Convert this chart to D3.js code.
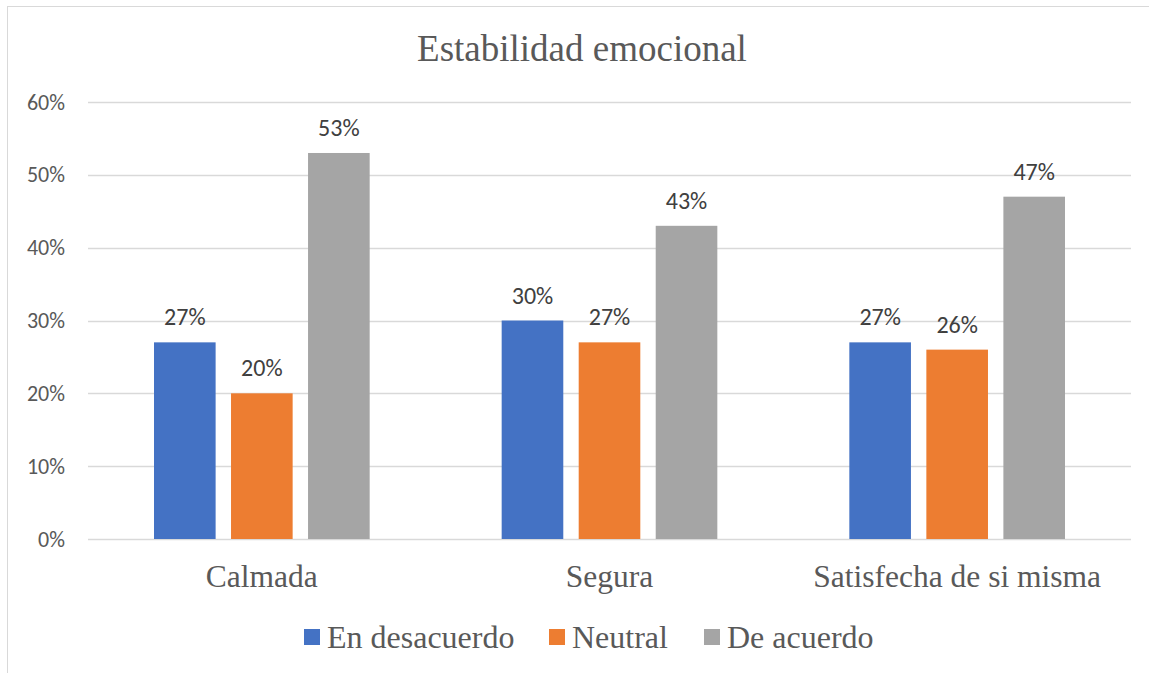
<!DOCTYPE html>
<html>
<head>
<meta charset="utf-8">
<script src="https://cdn.jsdelivr.net/npm/d3@7"></script>
<style>
  body { margin: 0; background: #fff; }
</style>
</head>
<body>
<script>
const categories = ['Calmada', 'Segura', 'Satisfecha de si misma']
const seriesNames = ['En desacuerdo', 'Neutral', 'De acuerdo']
const enDesacuerdo = [0.27, 0.30, 0.27]
const neutral = [0.20, 0.27, 0.26]
const deAcuerdo = [0.53, 0.43, 0.47]
const yTicks = [0, 0.1, 0.2, 0.3, 0.4, 0.5, 0.6]
const colors = ['#4472c4', '#ed7d31', '#a5a5a5']

const width = 1149, height = 673
const plotLeft = 88, plotRight = 1131, plotTop = 102, plotBottom = 539

let svg = d3.select('body').append('svg')
  .attr('width', width)
  .attr('height', height)

// chart border
svg.append('rect')
  .attr('x', 7.5).attr('y', 6.5)
  .attr('width', 1160).attr('height', 700)
  .attr('fill', 'none')
  .attr('stroke', '#d9d9d9')

const x = d3.scaleBand().domain(categories).range([plotLeft, plotRight]).paddingInner(0).paddingOuter(0)
const xs = d3.scaleBand().domain(seriesNames).range([66, x.bandwidth() - 66]).paddingInner(0.2)
const y = d3.scaleLinear().domain([0, 0.6]).range([plotBottom, plotTop])

// gridlines
svg.append('g').selectAll('line').data(yTicks).enter().append('line')
  .attr('x1', plotLeft).attr('x2', plotRight)
  .attr('y1', d => Math.round(y(d)) + 0.5).attr('y2', d => Math.round(y(d)) + 0.5)
  .attr('stroke', '#d9d9d9').attr('stroke-width', 1.5)

// y labels
svg.append('g').selectAll('text').data(yTicks).enter().append('text')
  .attr('x', 65).attr('y', d => y(d) + 7.5)
  .attr('text-anchor', 'end')
  .style('font-family', 'Carlito, "Open Sans", sans-serif')
  .style('font-size', '22px')
  .style('fill', '#595959')
  .text(d3.format('.0%'))

const series = [enDesacuerdo, neutral, deAcuerdo]
const rows = []
series.forEach((vals, si) => vals.forEach((v, ci) => rows.push({ s: seriesNames[si], si, c: categories[ci], v })))

svg.append('g').selectAll('rect').data(rows).enter().append('rect')
  .attr('x', d => x(d.c) + xs(d.s))
  .attr('y', d => y(d.v))
  .attr('width', xs.bandwidth())
  .attr('height', d => y(0) - y(d.v))
  .attr('fill', d => colors[d.si])

svg.append('g').selectAll('text').data(rows).enter().append('text')
  .attr('x', d => x(d.c) + xs(d.s) + xs.bandwidth() / 2)
  .attr('y', d => y(d.v) - 17)
  .attr('text-anchor', 'middle')
  .style('font-family', 'Carlito, "Open Sans", sans-serif')
  .style('font-size', '24px')
  .style('fill', '#404040')
  .text(d => d3.format('.0%')(d.v))

// category labels
svg.append('g').selectAll('text').data(categories).enter().append('text')
  .attr('x', d => x(d) + x.bandwidth() / 2)
  .attr('y', 587)
  .attr('text-anchor', 'middle')
  .style('font-family', '"Liberation Serif", serif')
  .style('font-size', '31.5px')
  .style('fill', '#595959')
  .text(d => d)

// title
svg.append('text')
  .attr('x', 582).attr('y', 61)
  .attr('text-anchor', 'middle')
  .style('font-family', '"Liberation Serif", serif')
  .style('font-size', '37px')
  .style('fill', '#595959')
  .text('Estabilidad emocional')

// legend
const legendX = [304, 549, 704]
const legend = svg.append('g').selectAll('g').data(seriesNames).enter().append('g')
  .attr('transform', (d, i) => `translate(${legendX[i]}, 0)`)
legend.append('rect')
  .attr('x', 0).attr('y', 629).attr('width', 16).attr('height', 16)
  .attr('fill', (d, i) => colors[i])
legend.append('text')
  .attr('x', 23).attr('y', 648)
  .style('font-family', '"Liberation Serif", serif')
  .style('font-size', '32px')
  .style('fill', '#595959')
  .text(d => d)
</script>
</body>
</html>
